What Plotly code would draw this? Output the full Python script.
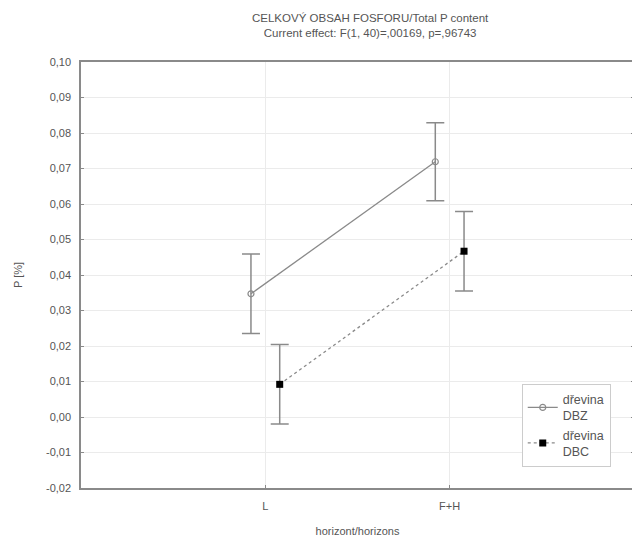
import plotly.graph_objects as go

categories = ["L", "F+H"]
cat_pos = [0, 1]
dbz_mean = [0.0347, 0.0719]
dbz_err = [0.0112, 0.0110]
dbc_mean = [0.0092, 0.0467]
dbc_err = [0.0112, 0.0112]
y_ticks = [0.10, 0.09, 0.08, 0.07, 0.06, 0.05, 0.04, 0.03, 0.02, 0.01, 0.00, -0.01, -0.02]
y_labels = ["0,10", "0,09", "0,08", "0,07", "0,06", "0,05", "0,04", "0,03", "0,02", "0,01", "0,00", "-0,01", "-0,02"]
offset = 0.078

font = "Liberation Sans, Arial, sans-serif"
gray = "#8a8a8a"

fig = go.Figure()
fig.add_trace(go.Scatter(
    x=[p - offset for p in cat_pos], y=dbz_mean,
    mode="lines+markers", name="dřevina<br>DBZ",
    line=dict(color=gray, width=1.3),
    marker=dict(symbol="circle-open", size=6, color=gray, line=dict(width=1.2)),
    error_y=dict(type="data", array=dbz_err, color=gray, thickness=1.5, width=9),
))
fig.add_trace(go.Scatter(
    x=[p + offset for p in cat_pos], y=dbc_mean,
    mode="lines+markers", name="dřevina<br>DBC",
    line=dict(color=gray, width=1.3, dash="dot"),
    marker=dict(symbol="square", size=7, color="black"),
    error_y=dict(type="data", array=dbc_err, color=gray, thickness=1.5, width=9),
))

fig.update_layout(
    width=632, height=532,
    margin=dict(l=73, r=6, t=54, b=52, autoexpand=False),
    paper_bgcolor="white", plot_bgcolor="white",
    font=dict(family=font, size=11, color="#555555"),
    title=dict(
        text="CELKOVÝ OBSAH FOSFORU/Total P content<br>Current effect: F(1, 40)=,00169, p=,96743",
        x=0.573, xanchor="center", xref="container",
        y=0.973, yanchor="top", yref="container", automargin=False,
        font=dict(family=font, size=11.5, color="#555555"),
    ),
    showlegend=True,
    legend=dict(
        x=0.797, y=0.245, xanchor="left", yanchor="top",
        bordercolor="#cccccc", borderwidth=1, bgcolor="white",
        font=dict(family=font, size=12.5, color="#555555"),
        itemwidth=30, tracegroupgap=5,
    ),
    annotations=[dict(
        text="P [%]", xref="paper", yref="paper", x=-0.114, y=0.5,
        xanchor="center", yanchor="middle", textangle=-90, showarrow=False,
        font=dict(family=font, size=11, color="#555555"),
    )],
)
fig.update_xaxes(
    range=[-1, 2], tickvals=cat_pos, ticktext=categories,
    showgrid=True, gridcolor="#ebebeb", gridwidth=1,
    showline=True, linecolor=gray, linewidth=1.5, mirror=True,
    ticks="inside", ticklen=3, tickcolor=gray, zeroline=False,
    automargin=False, ticklabelstandoff=7,
    title=dict(text="horizont/horizons", standoff=16, font=dict(size=11)),
    tickfont=dict(size=11),
)
fig.update_yaxes(
    range=[-0.02, 0.10], tickvals=y_ticks, ticktext=y_labels,
    showgrid=True, gridcolor="#ebebeb", gridwidth=1,
    showline=True, linecolor=gray, linewidth=1.5, mirror="allticks",
    ticks="inside", ticklen=3, tickcolor=gray, zeroline=False,
    automargin=False, ticklabelstandoff=6,
    tickfont=dict(size=11),
)

fig.write_html("out.html")
